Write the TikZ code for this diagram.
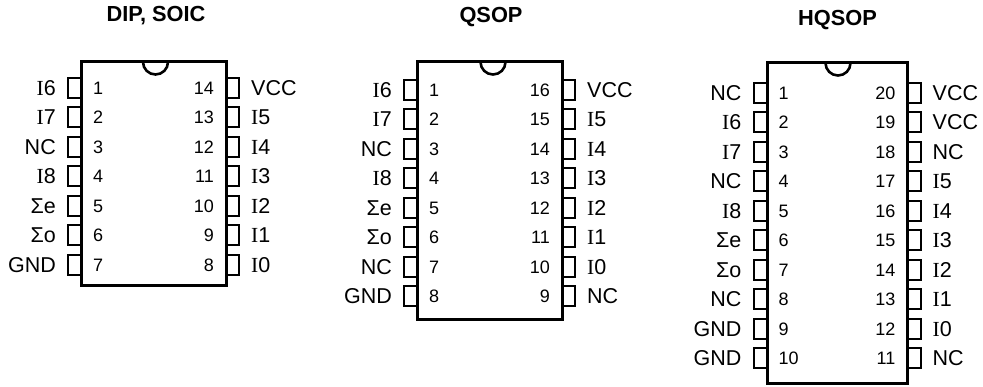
\documentclass[tikz,border=0pt]{standalone}
\usepackage{fontspec}
\setmainfont{Liberation Sans}
\newfontfamily\serfont{Liberation Serif}
\usetikzlibrary{positioning}
\newcommand{\sI}{{\serfont I}}

\tikzset{
    chipbox/.style={draw, line width=3pt, minimum width=145pt, inner sep=0pt},
    pinbox/.style={draw, line width=2pt, minimum width=13pt, minimum height=20pt, inner sep=0pt},
    pinlabel/.style={font=\fontsize{21.5}{21}\selectfont, inner sep=0pt},
    pinnum/.style={font=\fontsize{18}{18}\selectfont, inner sep=0pt},
    chiptitle/.style={font=\fontsize{21.8}{21}\selectfont\bfseries, inner sep=0pt},
    notchline/.style={line width=2.6pt}
}

\begin{document}
\begin{tikzpicture}[x=1pt,y=-1pt,node distance=11pt]
    \useasboundingbox (0,0) rectangle (983,387);

    \node[chiptitle] (t1) at (156,15.5) {DIP, SOIC};
    \node[chiptitle] (t2) at (491,17) {QSOP};
    \node[chiptitle] (t3) at (837.5,20) {HQSOP};

    % DIP, SOIC
    \node[chipbox, minimum height=224pt] (dip) at (153.5,174) {};
    \draw[notchline] (143,62) arc[start angle=180, end angle=0, radius=12.5];
    \foreach \n/\t [count=\i] in {1/\sI6,2/\sI7,3/NC,4/\sI8,5/Σe,6/Σo,7/GND} {
        \pgfmathsetmacro{\py}{88+29.5*(\i-1)}
        \node[pinbox] (dipl\i) at (74.5,\py) {};
        \node[pinlabel, left=of dipl\i] (diplt\i) {\t};
        \node[pinnum, right=of dipl\i] (dipln\i) {\n};
    }
    \foreach \n/\t [count=\i] in {14/VCC,13/\sI5,12/\sI4,11/\sI3,10/\sI2,9/\sI1,8/\sI0} {
        \pgfmathsetmacro{\py}{88+29.5*(\i-1)}
        \node[pinbox] (dipr\i) at (232.5,\py) {};
        \node[pinlabel, right=of dipr\i] (diprt\i) {\t};
        \node[pinnum, left=of dipr\i] (diprn\i) {\n};
    }

    % QSOP
    \node[chipbox, minimum height=258pt] (qsop) at (489.5,191) {};
    \draw[notchline] (480.5,62) arc[start angle=180, end angle=0, radius=12.5];
    \foreach \n/\t [count=\i] in {1/\sI6,2/\sI7,3/NC,4/\sI8,5/Σe,6/Σo,7/NC,8/GND} {
        \pgfmathsetmacro{\py}{90+29.5*(\i-1)}
        \node[pinbox] (qsopl\i) at (410.5,\py) {};
        \node[pinlabel, left=of qsopl\i] (qsoplt\i) {\t};
        \node[pinnum, right=of qsopl\i] (qsopln\i) {\n};
    }
    \foreach \n/\t [count=\i] in {16/VCC,15/\sI5,14/\sI4,13/\sI3,12/\sI2,11/\sI1,10/\sI0,9/NC} {
        \pgfmathsetmacro{\py}{90+29.5*(\i-1)}
        \node[pinbox] (qsopr\i) at (568.5,\py) {};
        \node[pinlabel, right=of qsopr\i] (qsoprt\i) {\t};
        \node[pinnum, left=of qsopr\i] (qsoprn\i) {\n};
    }

    % HQSOP
    \node[chipbox, minimum width=140pt, minimum height=321pt] (hq) at (837,223.5) {};
    \draw[notchline] (825.5,63) arc[start angle=180, end angle=0, radius=12.5];
    \foreach \n/\t [count=\i] in {1/NC,2/\sI6,3/\sI7,4/NC,5/\sI8,6/Σe,7/Σo,8/NC,9/GND,10/GND} {
        \pgfmathsetmacro{\py}{93+29.5*(\i-1)}
        \node[pinbox] (hql\i) at (760,\py) {};
        \node[pinlabel, left=of hql\i] (hqlt\i) {\t};
        \node[pinnum, right=of hql\i] (hqln\i) {\n};
    }
    \foreach \n/\t [count=\i] in {20/VCC,19/VCC,18/NC,17/\sI5,16/\sI4,15/\sI3,14/\sI2,13/\sI1,12/\sI0,11/NC} {
        \pgfmathsetmacro{\py}{93+29.5*(\i-1)}
        \node[pinbox] (hqr\i) at (914,\py) {};
        \node[pinlabel, right=of hqr\i] (hqrt\i) {\t};
        \node[pinnum, left=of hqr\i] (hqrn\i) {\n};
    }
\end{tikzpicture}
\end{document}
